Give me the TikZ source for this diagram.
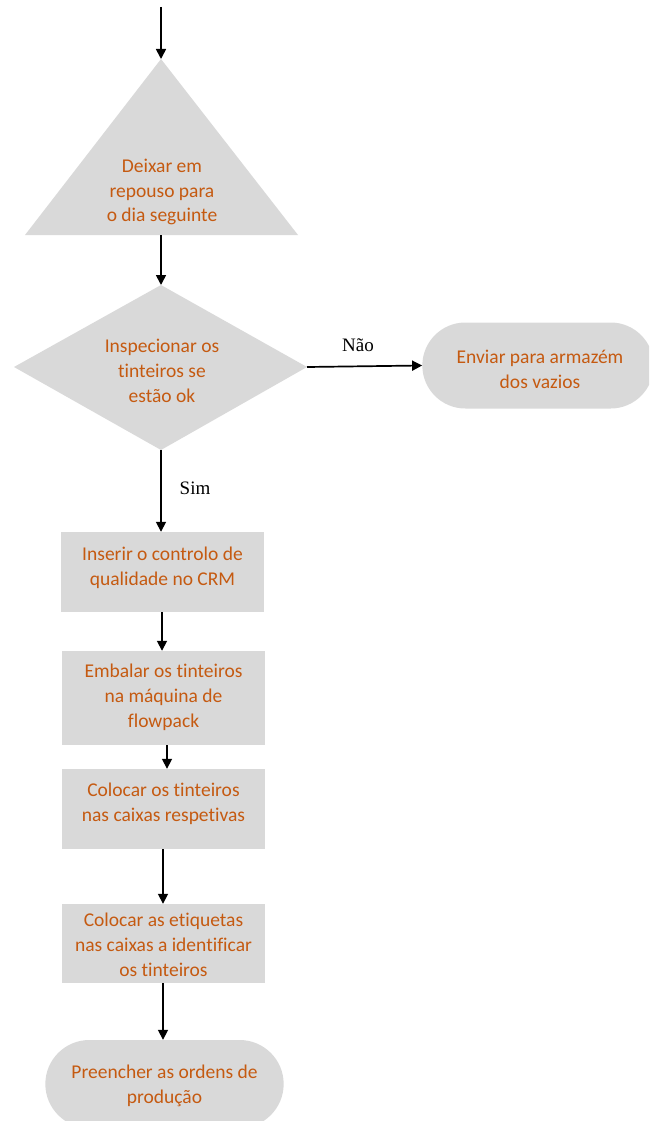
\documentclass[tikz,border=0pt]{standalone}
\usepackage{fontspec}
\setmainfont{Carlito}[Ligatures=NoCommon]
\newfontfamily\labelfont{Liberation Serif}
\usetikzlibrary{shapes.misc,arrows.meta}
\definecolor{boxfill}{HTML}{D9D9D9}
\definecolor{boxtext}{HTML}{C55A11}
\tikzset{
  txt/.style={text=boxtext, align=center, inner sep=0pt,
    font=\fontsize{19.5}{24.8}\selectfont},
  procbox/.style={fill=boxfill, minimum width=203pt},
  termbox/.style={fill=boxfill, rounded rectangle, minimum height=86pt},
  flow/.style={line width=1.7pt, -{Triangle[length=10pt,width=10pt]}},
  answer/.style={font=\labelfont\fontsize{19}{22}\selectfont, inner sep=0pt},
}
\begin{document}
\begin{tikzpicture}[x=1pt,y=-1pt]
\useasboundingbox (0,0) rectangle (649,1121);
\clip (0,0) rectangle (649,1121);

% waiting step (triangle)
\coordinate (start) at (161,7);
\coordinate (tritop) at (161,59);
\coordinate (tribot) at (161,235);
\fill[boxfill] (161,59) -- (298,235) -- (25,235) -- cycle;
\node[txt] (rest) at (162,192) {Deixar em\\repouso para\\o dia seguinte};

% inspection decision (diamond)
\coordinate (dtop) at (161,285);
\coordinate (dbot) at (161,450);
\coordinate (dright) at (307,367);
\fill[boxfill] (161,285) -- (307,367) -- (161,450) -- (14,367) -- cycle;
\node[txt] (inspect) at (162,371) {Inspecionar os\\tinteiros se\\estão ok};

% reject branch
\node[termbox, minimum width=238pt] (reject) at (538,365.5) {};
\node[txt] (rejecttext) at (540,369) {Enviar para armazém\\dos vazios};

% process steps
\node[procbox, minimum height=80pt] (crm) at (162.5,572) {};
\node[txt] (crmtext) at (162.5,568) {Inserir o controlo de\\qualidade no CRM};
\node[procbox, minimum height=94pt] (pack) at (163.5,698) {};
\node[txt] (packtext) at (163.5,697) {Embalar os tinteiros\\na máquina de\\flowpack};
\node[procbox, minimum height=80pt] (boxes) at (163.5,809) {};
\node[txt] (boxestext) at (163.5,804) {Colocar os tinteiros\\nas caixas respetivas};
\node[procbox, minimum height=79pt] (labels) at (163.5,943.5) {};
\begin{scope}
  \clip (62,904) rectangle (265,982);
  \node[txt, anchor=north] (labtext) at (163.5,913) {Colocar as etiquetas\\nas caixas a identificar\\os tinteiros};
\end{scope}
\node[termbox, minimum width=245pt, minimum height=88pt] (orders) at (164.5,1084) {};
\node[txt] (orderstext) at (164.5,1086) {Preencher as ordens de\\produção};

% connectors
\draw[flow] (start) -- (tritop);
\draw[flow] (tribot) -- (dtop);
\draw[flow] (dright) -- (reject.west);
\draw[flow] (dbot) -- (crm.north -| dbot);
\draw[flow] ([xshift=-0.5pt]crm.south) -- ([xshift=-0.5pt]pack.north -| crm.south);
\draw[flow] ([xshift=3.5pt]pack.south) -- ([xshift=3.5pt]boxes.north);
\draw[flow] ([xshift=-0.5pt]boxes.south) -- ([xshift=-0.5pt]labels.north);
\draw[flow] ([xshift=-0.5pt]labels.south) -- ([xshift=-0.5pt]orders.north -| labels.south);

% branch labels
\node[answer] (no) at (358,345) {Não};
\node[answer] (yes) at (195,488) {Sim};
\end{tikzpicture}
\end{document}
